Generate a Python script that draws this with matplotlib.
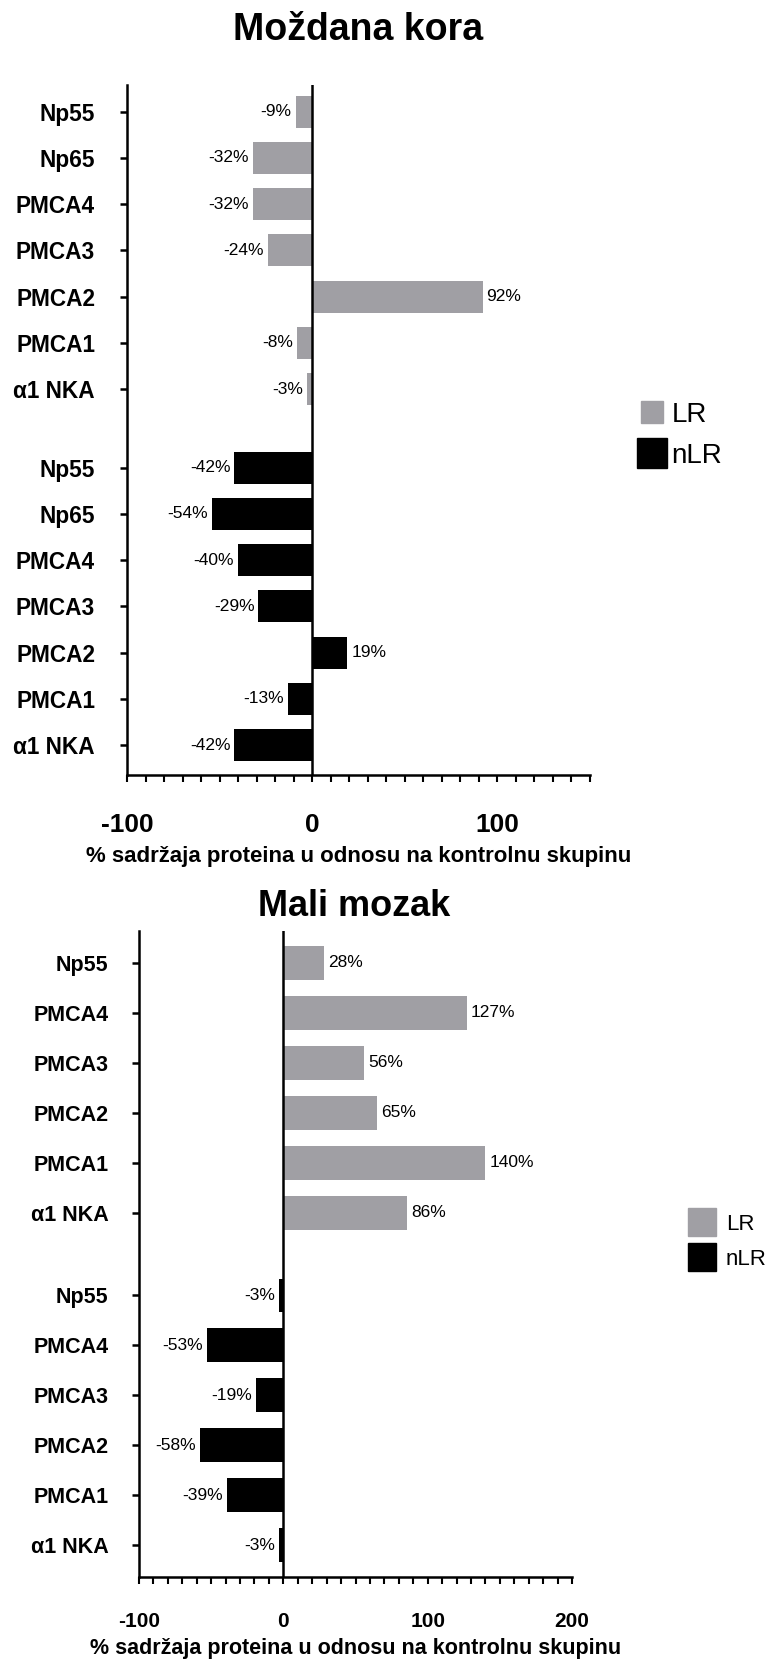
import numpy as np
import matplotlib
matplotlib.use('Agg')
import matplotlib.pyplot as plt
from matplotlib.lines import Line2D
from matplotlib.ticker import MultipleLocator

plt.rcParams['font.family'] = ['Liberation Sans', 'DejaVu Sans']
plt.rcParams['axes.unicode_minus'] = False

# cerebral cortex (Moždana kora)
ctx_labels = ['Np55', 'Np65', 'PMCA4', 'PMCA3', 'PMCA2', 'PMCA1', 'α1 NKA']
ctx_lr = [-9, -32, -32, -24, 92, -8, -3]
ctx_nlr = [-42, -54, -40, -29, 19, -13, -42]

# cerebellum (Mali mozak)
cb_labels = ['Np55', 'PMCA4', 'PMCA3', 'PMCA2', 'PMCA1', 'α1 NKA']
cb_lr = [28, 127, 56, 65, 140, 86]
cb_nlr = [-3, -53, -19, -58, -39, -3]

GRAY = '#a09fa4'
XLABEL = '% sadržaja proteina u odnosu na kontrolnu skupinu'


def panel(ax, labels, lr, nlr, gap, height, xlim, ylim, tick_fs, lab_fs, val_fs, ypad):
    n = len(labels)
    # bottom group is nLR (last label at 0), LR group sits above after a gap
    y_nlr = np.arange(n)[::-1].astype(float)
    y_lr = y_nlr + n - 1 + gap
    ax.barh(y_lr, lr, height=height, color=GRAY, zorder=2)
    ax.barh(y_nlr, nlr, height=height, color='black', zorder=2)
    for ys, vals in ((y_lr, lr), (y_nlr, nlr)):
        for y, v in zip(ys, vals):
            off = 4 if v >= 0 else -4
            ax.annotate('%d%%' % v, (v, y), xytext=(off, 0), textcoords='offset pixels',
                        ha='left' if v >= 0 else 'right', va='center', fontsize=val_fs)
    ax.axvline(0, color='black', lw=1.8, zorder=3)
    ax.set_yticks(np.concatenate([y_lr, y_nlr]))
    ax.set_yticklabels(labels + labels, fontweight='bold', fontsize=lab_fs)
    ax.set_xlim(*xlim)
    ax.set_ylim(*ylim)
    ax.xaxis.set_major_locator(MultipleLocator(100))
    ax.xaxis.set_minor_locator(MultipleLocator(10))
    for s in ('top', 'right'):
        ax.spines[s].set_visible(False)
    for s in ('left', 'bottom'):
        ax.spines[s].set_linewidth(1.8)
    ax.tick_params(axis='y', length=5, width=1.8, pad=ypad)
    ax.tick_params(axis='x', which='both', length=5, width=1.5, labelsize=tick_fs)
    for t in ax.get_xticklabels():
        t.set_fontweight('bold')


fig = plt.figure(figsize=(7.66, 16.59), dpi=100)

ax1 = fig.add_axes([0.1658, 0.5328, 0.6044, 0.4160])
panel(ax1, ctx_labels, ctx_lr, ctx_nlr, 1.7, 0.69, (-100, 150), (-0.65, 14.28), 19, 16.3, 12.5, 18)
ax1.tick_params(axis='x', which='major', pad=22)
ax1.set_xlabel(XLABEL, fontweight='bold', fontsize=16, labelpad=7)
fig.text(0.467, 0.982, 'Moždana kora', ha='center', va='center', fontsize=27, fontweight='bold')

ax2 = fig.add_axes([0.1815, 0.0494, 0.5652, 0.3894])
panel(ax2, cb_labels, cb_lr, cb_nlr, 1.66, 0.68, (-100, 200), (-0.64, 12.3), 15, 15.5, 12.5, 17)
ax2.tick_params(axis='x', which='major', pad=20)
ax2.set_xlabel(XLABEL, fontweight='bold', fontsize=15.5, labelpad=5)
fig.text(0.462, 0.4533, 'Mali mozak', ha='center', va='center', fontsize=26, fontweight='bold')

h1 = [Line2D([], [], marker='s', ls='none', color=GRAY, markersize=16.5),
      Line2D([], [], marker='s', ls='none', color='black', markersize=21)]
fig.legend(h1, ['LR', 'nLR'], loc='center left', bbox_to_anchor=(0.833, 0.7375),
           frameon=False, fontsize=20, handlelength=1.0, handletextpad=0.2,
           labelspacing=0.55, borderpad=0, borderaxespad=0)

h2 = [Line2D([], [], marker='s', ls='none', color=GRAY, markersize=20),
      Line2D([], [], marker='s', ls='none', color='black', markersize=20)]
fig.legend(h2, ['LR', 'nLR'], loc='center left', bbox_to_anchor=(0.898, 0.2515),
           frameon=False, fontsize=16, handlelength=1.3, handletextpad=0.4,
           labelspacing=0.65, borderpad=0, borderaxespad=0)

fig.savefig('out.png', dpi=100)
